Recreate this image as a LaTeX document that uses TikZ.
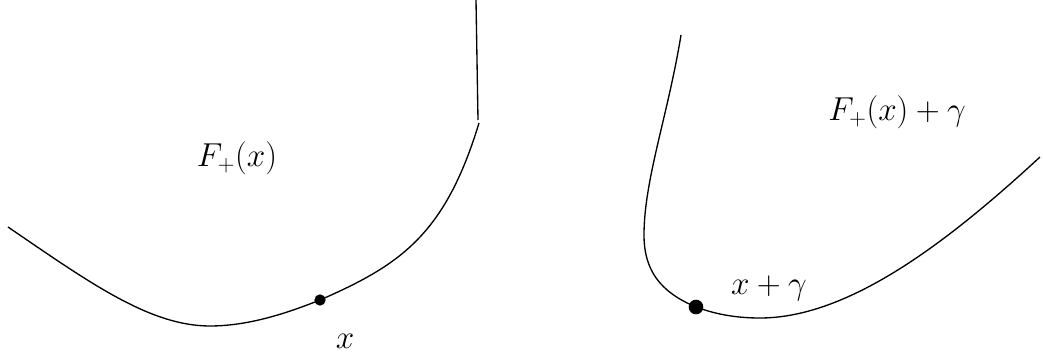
\documentclass[tikz,border=0pt]{standalone}
\begin{document}
\begin{tikzpicture}[x=0.75pt,y=-0.75pt,
  curve/.style={line width=1pt, black},
  dotsmall/.style={circle, fill=black, inner sep=0pt, minimum size=8.5pt},
  dotbig/.style={circle, fill=black, inner sep=0pt, minimum size=11pt},
  lab/.style={font=\fontsize{24}{29}\selectfont, inner sep=0pt}]
\useasboundingbox (0,0) rectangle (1043,356);
% left set
\draw[curve] (476,0) -- (478,120);
\draw[curve] (8,227) .. controls (90,283) and (150,326) .. (210,326)
  .. controls (250,326) and (290,312) .. (320,300)
  .. controls (400,265) and (445,235) .. (479,123);
\node[dotsmall] (x) at (320,300) {};
\node[lab] (Fx) at (237,158) {$F_+(x)$};
\node[lab] (xl) at (345,341) {$x$};
% right set
\draw[curve] (681,35) .. controls (668,115) and (644,180) .. (644,235)
  .. controls (644,270) and (660,292) .. (696,307)
  .. controls (715,314) and (735,318) .. (760,318)
  .. controls (850,318) and (950,240) .. (1040,157);
\node[dotbig] (xg) at (696,307) {};
\node[lab] (Fxg) at (897,112) {$F_+(x)+\gamma$};
\node[lab] (xgl) at (769,288) {$x+\gamma$};
\end{tikzpicture}
\end{document}
